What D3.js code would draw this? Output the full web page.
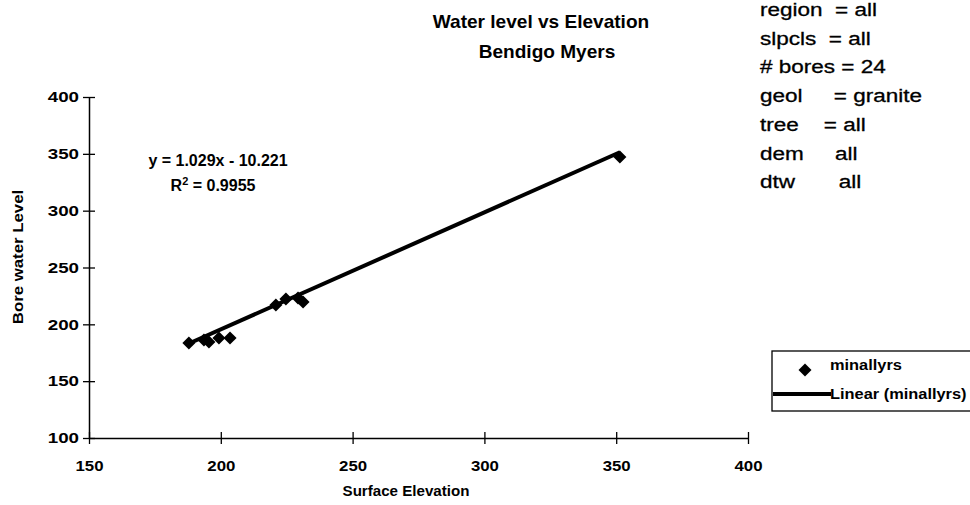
<!DOCTYPE html>
<html><head><meta charset="utf-8">
<script src="https://cdn.jsdelivr.net/npm/d3@7"></script>
<style>body{margin:0;background:#fff}svg{display:block}text{font-family:"Liberation Sans",Arial,sans-serif;fill:#000}</style>
</head><body><svg id="c" width="970" height="505"></svg>
<script>
const elevation = [187.9, 193.6, 195.5, 199.3, 203.5, 220.9, 224.7, 229.3, 231.2, 351.4];
const waterLevel = [183.6, 186.2, 184.5, 188.0, 188.0, 217.0, 222.3, 223.2, 219.6, 347.2];
const xTicks = [150, 200, 250, 300, 350, 400];
const yTicks = [100, 150, 200, 250, 300, 350, 400];
const slope = 1.029, intercept = -10.221;
const titleLines = ["Water level vs Elevation", "Bendigo Myers"];
const infoLines = ["region  = all", "slpcls  = all", "# bores = 24", "geol     = granite", "tree    = all", "dem     all", "dtw       all"];
const legendLabels = ["minallyrs", "Linear (minallyrs)"];

const FONT = "Liberation Sans, Arial, sans-serif";
const svg = d3.select("#c");
const x = d3.scaleLinear().domain([150, 400]).range([89, 748]);
const y = d3.scaleLinear().domain([100, 400]).range([438, 97]);

function stretch(sel, k) {
  sel.each(function () {
    const w = this.getComputedTextLength();
    d3.select(this).attr("textLength", w * k).attr("lengthAdjust", "spacingAndGlyphs");
  });
}

// axes
const xa = svg.append("g").attr("transform", "translate(0,438)")
  .call(d3.axisBottom(x).tickValues(xTicks).tickSize(0).tickPadding(22));
xa.select(".domain").attr("stroke", "#000").attr("stroke-width", 1.5);
xa.selectAll(".tick").append("line").attr("y1", -6).attr("y2", 6).attr("stroke", "#000").attr("stroke-width", 1.3);
xa.selectAll("text").attr("font-size", 15).attr("font-weight", "bold").attr("font-family", FONT).attr("fill", "#000");
stretch(xa.selectAll("text"), 1.12);

const ya = svg.append("g").attr("transform", "translate(89,0)")
  .call(d3.axisLeft(y).tickValues(yTicks).tickSize(0).tickPadding(10));
ya.select(".domain").attr("stroke", "#000").attr("stroke-width", 1.5);
ya.selectAll(".tick").append("line").attr("x1", -6).attr("x2", 6).attr("stroke", "#000").attr("stroke-width", 1.3);
ya.selectAll("text").attr("font-size", 15).attr("font-weight", "bold").attr("font-family", FONT).attr("fill", "#000");
stretch(ya.selectAll("text"), 1.25);

// trendline
const xmin = d3.min(elevation), xmax = d3.max(elevation);
svg.append("line")
  .attr("x1", x(xmin)).attr("y1", y(slope * xmin + intercept))
  .attr("x2", x(xmax)).attr("y2", y(slope * xmax + intercept))
  .attr("stroke", "#000").attr("stroke-width", 4);

// points
svg.append("g").selectAll("path").data(elevation).join("path")
  .attr("d", d3.symbol().type(d3.symbolSquare).size(85))
  .attr("transform", (d, i) => `translate(${x(d)},${y(waterLevel[i])}) rotate(45)`)
  .attr("fill", "#000");

// titles
const tt = svg.append("g").selectAll("text").data(titleLines).join("text")
  .attr("x", (d, i) => i === 0 ? 541 : 547).attr("y", (d, i) => 28 + i * 30)
  .attr("text-anchor", "middle").attr("font-size", 18.5).attr("font-weight", "bold").text(d => d);
stretch(tt, 1.03);

// info text
const it = svg.append("g").selectAll("text").data(infoLines).join("text")
  .attr("x", 760).attr("y", (d, i) => 16 + i * 28.7)
  .attr("font-size", 18).attr("xml:space", "preserve").style("white-space", "pre")
  .attr("stroke", "#000").attr("stroke-width", 0.3).text(d => d);
stretch(it, 1.25);

// equation
svg.append("text").attr("x", 218).attr("y", 166).attr("text-anchor", "middle")
  .attr("font-size", 16).attr("font-weight", "bold").text(`y = ${slope}x - ${Math.abs(intercept)}`);
const r2 = svg.append("text").attr("x", 213).attr("y", 191).attr("text-anchor", "middle")
  .attr("font-size", 16).attr("font-weight", "bold");
r2.append("tspan").text("R");
r2.append("tspan").attr("font-size", 11).attr("dy", -6).text("2");
r2.append("tspan").attr("dy", 6).text(" = 0.9955");

// axis titles
const xt = svg.append("text").attr("x", 406).attr("y", 496).attr("text-anchor", "middle")
  .attr("font-size", 14).attr("font-weight", "bold").text("Surface Elevation");
stretch(xt, 1.08);
const yt = svg.append("text").attr("transform", "translate(23,257) rotate(-90)").attr("text-anchor", "middle")
  .attr("font-size", 14).attr("font-weight", "bold").text("Bore water Level");
stretch(yt, 1.2);

// legend
const lg = svg.append("g");
lg.append("rect").attr("x", 772).attr("y", 351).attr("width", 205).attr("height", 60)
  .attr("fill", "#fff").attr("stroke", "#000").attr("stroke-width", 1.3);
lg.append("path").attr("d", d3.symbol().type(d3.symbolSquare).size(85))
  .attr("transform", "translate(805,370) rotate(45)").attr("fill", "#000");
lg.append("line").attr("x1", 773).attr("x2", 831).attr("y1", 394).attr("y2", 394)
  .attr("stroke", "#000").attr("stroke-width", 4);
const lt = lg.selectAll("text").data(legendLabels).join("text")
  .attr("x", 830).attr("y", (d, i) => 370 + i * 29).attr("font-size", 14).attr("font-weight", "bold")
  .text(d => d);
stretch(lt, 1.17);
</script></body></html>
